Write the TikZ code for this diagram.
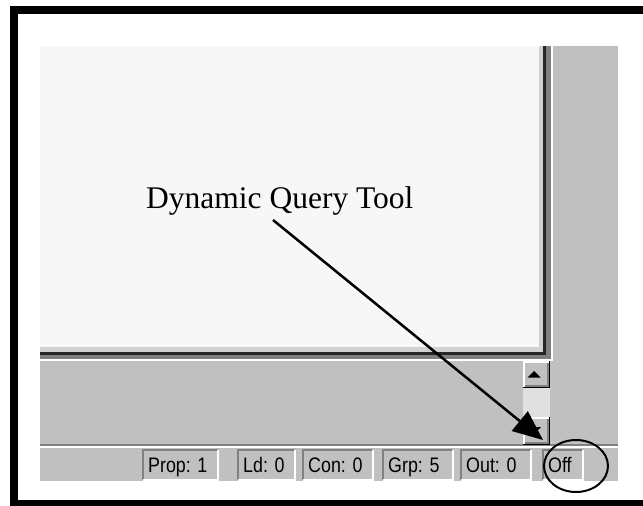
\documentclass[tikz,border=0pt]{standalone}
\usepackage{fontspec}
\setmainfont{Liberation Serif}
\newfontfamily\uifont{Liberation Sans}
\usetikzlibrary{arrows.meta,shapes.geometric}
\definecolor{winbg}{HTML}{C0C0C0}
\definecolor{windark}{HTML}{808080}
\definecolor{canvasbg}{HTML}{F7F7F7}
\definecolor{trackbg}{HTML}{E0E0E0}
\tikzset{
  status/.style={font=\uifont\fontsize{21}{24}\selectfont, inner sep=0pt, anchor=base west},
  callout/.style={font=\fontsize{31.5}{36}\selectfont, inner sep=0pt, anchor=base west},
  pointer/.style={line width=2.5pt, -{Triangle[length=30pt,width=25pt]}},
  ringstyle/.style={draw, line width=2pt, ellipse, minimum width=64pt, minimum height=52pt, inner sep=0pt},
}
\begin{document}
\begin{tikzpicture}[x=1pt,y=-1pt]
\useasboundingbox (0,0) rectangle (643,506);
\clip (0,0) rectangle (643,506);
\fill[white] (0,0) rectangle (643,506);
% outer black frame
\draw[line width=8pt] (14,10) rectangle (655,504);
% window base
\fill[winbg] (40,46) rectangle (618,481);
% canvas with bevel
\fill[white] (40,46) rectangle (553,361);
\fill[windark] (40,46) rectangle (551,359);
\fill[black!85] (40,46) rectangle (546,355);
\fill[black!18] (40,46) rectangle (543,352);
\fill[canvasbg] (40,46) rectangle (539,347);
% status bar separator
\fill[windark] (40,444) rectangle (618,446);
\fill[white] (40,446) rectangle (618,447.5);
% scrollbar
\fill[trackbg] (523,388) rectangle (550,417);
\foreach \t/\b in {361/388, 417/445} {
  \fill[winbg] (523,\t) rectangle (550,\b);
  \draw[white, line width=1.5pt] (523.75,\b) -- (523.75,\t+0.75) -- (550,\t+0.75);
  \draw[black, line width=1.5pt] (523,\b-0.75) -- (549.25,\b-0.75) -- (549.25,\t);
  \draw[windark, line width=1.5pt] (525,\b-2.25) -- (547.75,\b-2.25) -- (547.75,\t+1.5);
}
\fill (527.5,377.5) -- (540.5,377.5) -- (534,371) -- cycle;
\fill (528,427) -- (541,427) -- (534.5,433.5) -- cycle;
% status cells
\foreach \l/\r/\txt in {143/218/{Prop: 1}, 238/295/{Ld: 0}, 303/373/{Con: 0}, 383/453/{Grp: 5}, 461/531/{Out: 0}, 543/583/{Off}} {
  \draw[windark, line width=1.5pt] (\l,480) -- (\l,450) -- (\r,450);
  \draw[white, line width=1.5pt] (\l,480) -- (\r,480) -- (\r,450);
  \node[status] (cell\l) at (\l+5,472) {\scalebox{0.85}[1]{\txt}};
}
% callout
\node[callout] (lbl) at (146,208) {Dynamic Query Tool};
\coordinate (start) at (273,220);
\coordinate (tip) at (543,440);
\draw[pointer] (start) -- (tip);
\node[ringstyle] (ring) at (576,466) {};
\end{tikzpicture}
\end{document}
